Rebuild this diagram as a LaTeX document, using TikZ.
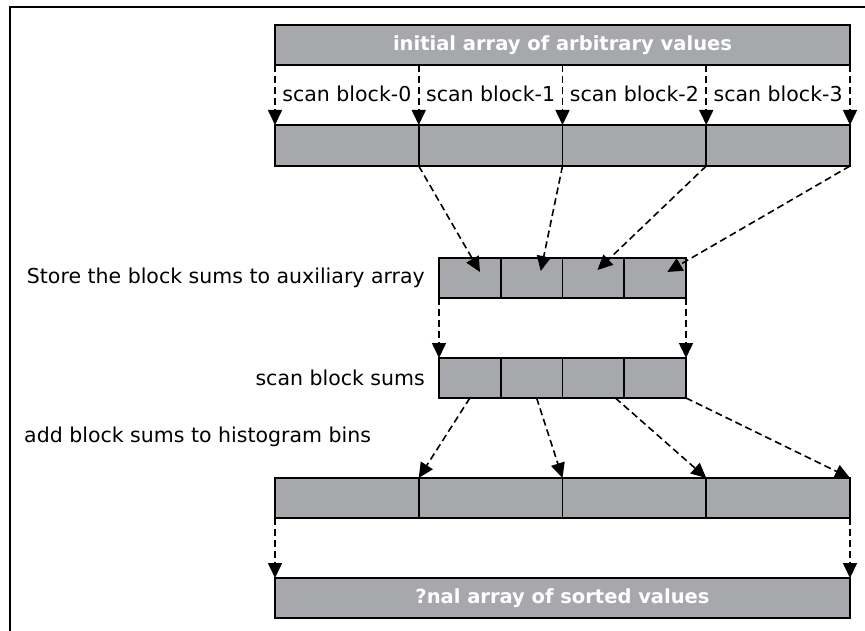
\documentclass[tikz,border=0pt]{standalone}
\usepackage{fontspec}
\setmainfont{DejaVu Sans}
\usepackage{xcolor}
\usepackage{tikz}
\usetikzlibrary{arrows.meta,positioning,calc}
\definecolor{barfill}{RGB}{167,168,171}

\begin{document}
\begin{tikzpicture}[
  x=1pt, y=-1pt,
  cell/.style={draw,fill=barfill,line width=1.7pt,anchor=north west,inner sep=0pt,outer sep=0pt,minimum height=40pt},
  bar/.style={cell,minimum width=575pt,text=white,font=\fontsize{19.5}{22}\selectfont\bfseries},
  txt/.style={font=\fontsize{20.5}{24}\selectfont,inner sep=0pt},
  dar/.style={line width=1.6pt,dash pattern=on 7pt off 4pt,-{Triangle[length=15pt,width=14pt]}}
]
  \useasboundingbox (0,0) rectangle (865,631);
  \clip (0,0) rectangle (865,631);

  % Outer frame (runs off to the right and bottom)
  \draw[line width=2pt] (10,7.5) rectangle (890,660);

  % Initial array and the four scan blocks
  \node[bar] (init) at (275,25) {initial array of arbitrary values};
  \foreach \i in {0,...,3}
    \node[cell,minimum width=143.75pt,minimum height=41pt] (blk\i) at ({275+143.75*\i},125) {};
  \foreach \i in {0,...,3}
    \node[txt,anchor=base] (lbl\i) at ({275+143.75*(\i+0.5)},102) {scan block-\i};

  \draw[dar] (init.south west) -- (blk0.north west);
  \foreach \i in {1,...,3}
    \draw[dar] (init.south -| blk\i.north west) -- (blk\i.north west);
  \draw[dar] (init.south east) -- (blk3.north east);

  % Auxiliary array of block sums
  \foreach \i in {0,...,3}
    \node[cell,minimum width=61.75pt] (aux\i) at ({439+61.75*\i},258) {};
  \node[txt,left=14pt of aux0.west] (auxlbl) {Store the block sums to auxiliary array};

  \draw[dar] (blk0.south east) -- ($(aux0.north west)+(41,14)$);
  \draw[dar] (blk1.south east) -- ($(aux1.north west)+(40,13)$);
  \draw[dar] (blk2.south east) -- ($(aux2.north west)+(35,12)$);
  \draw[dar] (blk3.south east) -- ($(aux3.north west)+(43,14)$);

  % Scanned block sums
  \foreach \i in {0,...,3}
    \node[cell,minimum width=61.75pt] (scan\i) at ({439+61.75*\i},358) {};
  \node[txt,left=14pt of scan0.west] (scanlbl) {scan block sums};

  \draw[dar] (aux0.south west) -- (scan0.north west);
  \draw[dar] (aux3.south east) -- (scan3.north east);

  % Histogram bins
  \node[txt,anchor=west] (addlbl) at (24,437) {add block sums to histogram bins};
  \foreach \i in {0,...,3}
    \node[cell,minimum width=143.75pt] (hist\i) at ({275+143.75*\i},478) {};

  \draw[dar] (scan0.south) -- (hist1.north west);
  \draw[dar] ($(scan1.south)+(5,0)$) -- (hist2.north west);
  \draw[dar] ($(scan2.south)+(22,0)$) -- (hist3.north west);
  \draw[dar] (scan3.south east) -- (hist3.north east);

  % Final array
  \node[bar] (final) at (275,578) {?nal array of sorted values};
  \draw[dar] (hist0.south west) -- (final.north west);
  \draw[dar] (hist3.south east) -- (final.north east);
\end{tikzpicture}
\end{document}
